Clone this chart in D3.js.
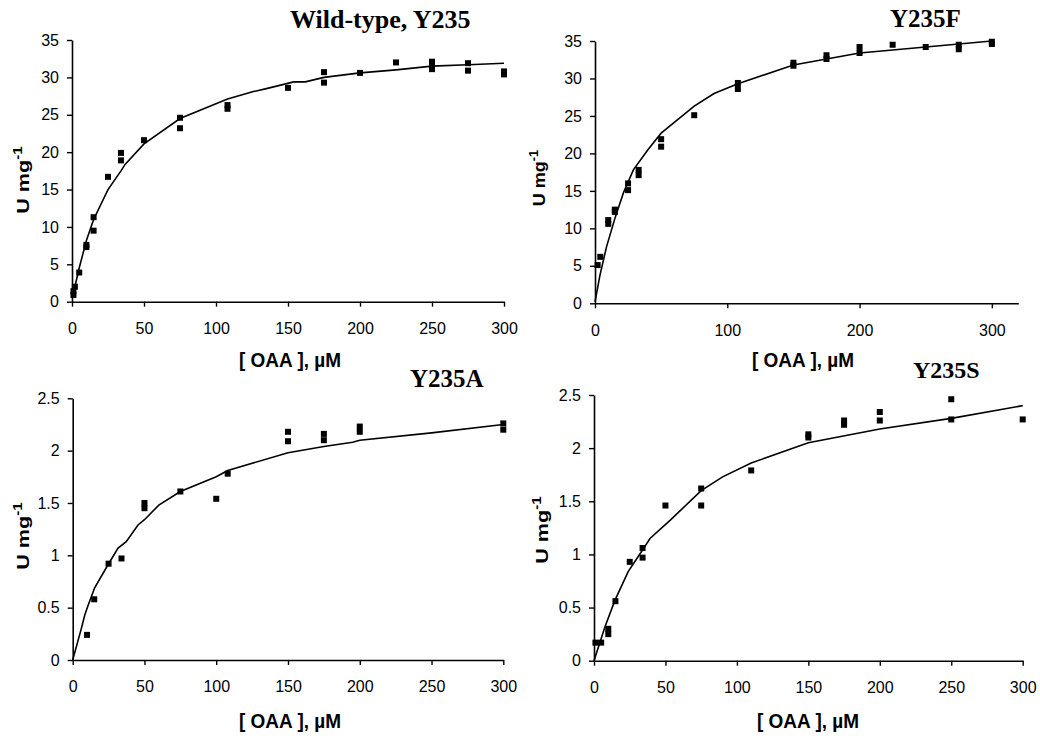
<!DOCTYPE html>
<html>
<head>
<meta charset="utf-8">
<script src="https://cdn.jsdelivr.net/npm/d3@7/dist/d3.min.js"></script>
<style>
  html, body { margin: 0; padding: 0; background: #fff; }
  svg { display: block; }
  .tick text { font-family: "Liberation Sans", Arial, sans-serif; font-size: 16px; fill: #000; }
</style>
</head>
<body>
<svg id="chart" width="1040" height="740"></svg>
<script>
// ---------- data ----------
const panelTitles = ["Wild-type, Y235", "Y235F", "Y235A", "Y235S"];
const xAxisTitle = "[ OAA ], \u00B5M";
const yAxisTitle = "U mg";
const yAxisSup = "-1";

const ticksX300 = [0, 50, 100, 150, 200, 250, 300];
const ticksX320 = [0, 100, 200, 300];
const ticksY35 = [0, 5, 10, 15, 20, 25, 30, 35];
const ticksY25 = [0, 0.5, 1, 1.5, 2, 2.5];

// Wild-type Y235
const wtPoints = [[1,0.9],[1,1.4],[2,2.0],[5,3.9],[10,7.6],[10,7.3],[15,11.3],[15,9.5],[25,16.7],
  [34,19.9],[34,18.9],[50,21.6],[75,24.6],[75,23.2],[108,26.3],[108,25.8],[150,28.6],
  [175,30.7],[175,29.3],[200,30.6],[225,32.0],[250,32.1],[250,31.6],[250,31.1],
  [275,31.9],[275,30.9],[300,30.8],[300,30.4]];
const wtFit = [[1,1.1],[2,2.0],[5,4.5],[10,8.2],[15,11.0],[25,15.0],[34,17.5],[37,18.4],[50,21.1],
  [75,24.5],[108,27.1],[126,28.1],[135,28.5],[154,29.4],[162,29.4],[175,30.0],[200,30.6],
  [225,31.0],[250,31.5],[275,31.7],[300,31.9]];

// Y235F
const fPoints = [[2,5.1],[4,6.2],[10,11.1],[10,10.6],[15,12.5],[15,12.2],[25,16.0],[25,15.1],
  [33,17.8],[33,17.1],[50,21.9],[50,20.9],[75,25.1],[108,29.4],[108,28.6],[150,32.1],[150,31.7],
  [175,33.1],[175,32.6],[200,34.2],[200,33.4],[225,34.5],[250,34.2],[275,34.5],[275,33.9],
  [300,34.9],[300,34.6]];
const fFit = [[0,0.2],[3.8,3.8],[8.8,7.6],[15,11.3],[21.4,14.7],[29,17.8],[40,20.5],[50,22.7],
  [75,26.3],[90,28.0],[108,29.3],[150,31.8],[175,32.6],[200,33.4],[250,34.2],[300,35.0]];

// Y235A
const aPoints = [[10,0.24],[15,0.58],[25,0.92],[34,0.97],[50,1.50],[50,1.45],[75,1.61],[100,1.54],
  [108,1.78],[150,2.18],[150,2.09],[175,2.16],[175,2.10],[200,2.23],[200,2.18],[300,2.26],[300,2.20]];
const aFit = [[0,0],[6,0.30],[8.4,0.43],[10.7,0.52],[15.3,0.69],[24.6,0.91],[31.6,1.07],[37.3,1.13],
  [45.5,1.29],[50,1.34],[60,1.48],[75,1.61],[100,1.75],[108,1.81],[150,1.98],[175,2.04],[195,2.08],
  [200,2.10],[250,2.17],[300,2.25]];

// Y235S
const sPoints = [[1,0.17],[5,0.17],[10,0.30],[10,0.25],[15,0.56],[25,0.93],[34,1.06],[34,0.97],
  [50,1.46],[75,1.62],[75,1.46],[110,1.79],[150,2.13],[150,2.10],[175,2.26],[175,2.22],
  [200,2.34],[200,2.26],[250,2.46],[250,2.27],[300,2.27]];
const sFit = [[0,0],[7.7,0.32],[14.7,0.57],[24,0.84],[33.4,1.03],[39.2,1.15],[53.2,1.32],[75,1.60],
  [90,1.73],[110,1.86],[150,2.05],[200,2.18],[250,2.28],[300,2.40]];

// ---------- layout ----------
const panels = [
  { title: panelTitles[0], pts: wtPoints, fit: wtFit, xMax: 300, yMax: 35, xt: ticksX300, yt: ticksY35,
    x0: 72, x1: 504, yTop: 40, yBot: 301.7, titleX: 290, titleY: 28, titleSize: 26,
    xTitleX: 290, xTitleY: 367, yTitleX: 29, yTitleY: 180, yStretch: 1.27 },
  { title: panelTitles[1], pts: fPoints, fit: fFit, xMax: 320, yMax: 35, xt: ticksX320, yt: ticksY35,
    x0: 595, x1: 1018.3, yTop: 41, yBot: 303.3, titleX: 890, titleY: 27, titleSize: 25,
    xTitleX: 803, xTitleY: 367, yTitleX: 545, yTitleY: 178, yStretch: 1.06 },
  { title: panelTitles[2], pts: aPoints, fit: aFit, xMax: 300, yMax: 2.5, xt: ticksX300, yt: ticksY25,
    x0: 72.7, x1: 503.3, yTop: 398.3, yBot: 660, titleX: 410, titleY: 387, titleSize: 25,
    xTitleX: 290, xTitleY: 728, yTitleX: 29, yTitleY: 536, yStretch: 1.27 },
  { title: panelTitles[3], pts: sPoints, fit: sFit, xMax: 300, yMax: 2.5, xt: ticksX300, yt: ticksY25,
    x0: 594, x1: 1022.7, yTop: 395, yBot: 660.7, titleX: 913, titleY: 378, titleSize: 24,
    xTitleX: 808, xTitleY: 728, yTitleX: 548, yTitleY: 530, yStretch: 1.27 }
];

const svg = d3.select("#chart");
const MS = 6; // marker size

panels.forEach(p => {
  const x = d3.scaleLinear().domain([0, p.xMax]).range([p.x0, p.x1]);
  const y = d3.scaleLinear().domain([0, p.yMax]).range([p.yBot, p.yTop]);
  const g = svg.append("g");

  const xAxis = d3.axisBottom(x).tickValues(p.xt).tickFormat(d => String(d))
    .tickSizeInner(5).tickSizeOuter(0).tickPadding(16);
  const yAxis = d3.axisLeft(y).tickValues(p.yt).tickFormat(d => String(d))
    .tickSizeInner(5).tickSizeOuter(0).tickPadding(8);

  const gx = g.append("g").attr("transform", `translate(0,${p.yBot})`).call(xAxis);
  const gy = g.append("g").attr("transform", `translate(${p.x0},0)`).call(yAxis);
  [gx, gy].forEach(a => {
    a.selectAll("path.domain").attr("stroke", "#000").attr("stroke-width", 1.6);
    a.selectAll(".tick line").attr("stroke", "#000").attr("stroke-width", 1.4);
  });

  // fit line
  const line = d3.line().x(d => x(d[0])).y(d => y(d[1]));
  g.append("path").datum(p.fit).attr("d", line)
    .attr("fill", "none").attr("stroke", "#000").attr("stroke-width", 1.6);

  // markers
  g.selectAll("rect.pt").data(p.pts).enter().append("rect")
    .attr("class", "pt")
    .attr("x", d => x(d[0]) - MS / 2).attr("y", d => y(d[1]) - MS / 2)
    .attr("width", MS).attr("height", MS).attr("fill", "#000");

  // panel title
  g.append("text").attr("x", p.titleX).attr("y", p.titleY)
    .attr("font-family", "'Liberation Serif', 'Times New Roman', serif")
    .attr("font-weight", "bold").attr("font-size", p.titleSize).attr("fill", "#000")
    .text(p.title);

  // x axis title
  g.append("text")
    .attr("transform", `translate(${p.xTitleX},${p.xTitleY}) scale(1,1.1)`)
    .attr("text-anchor", "middle")
    .attr("font-family", "'Liberation Sans', Arial, sans-serif")
    .attr("font-weight", "bold").attr("font-size", 19).attr("fill", "#000")
    .text(xAxisTitle);

  // y axis title
  const yt = g.append("text")
    .attr("transform", `translate(${p.yTitleX},${p.yTitleY}) rotate(-90) scale(${p.yStretch},1)`)
    .attr("text-anchor", "middle")
    .attr("font-family", "'Liberation Sans', Arial, sans-serif")
    .attr("font-weight", "bold").attr("font-size", 17).attr("fill", "#000");
  yt.append("tspan").text(yAxisTitle);
  yt.append("tspan").attr("dy", "-0.55em").attr("font-size", 12).text(yAxisSup);
});
</script>
</body>
</html>
